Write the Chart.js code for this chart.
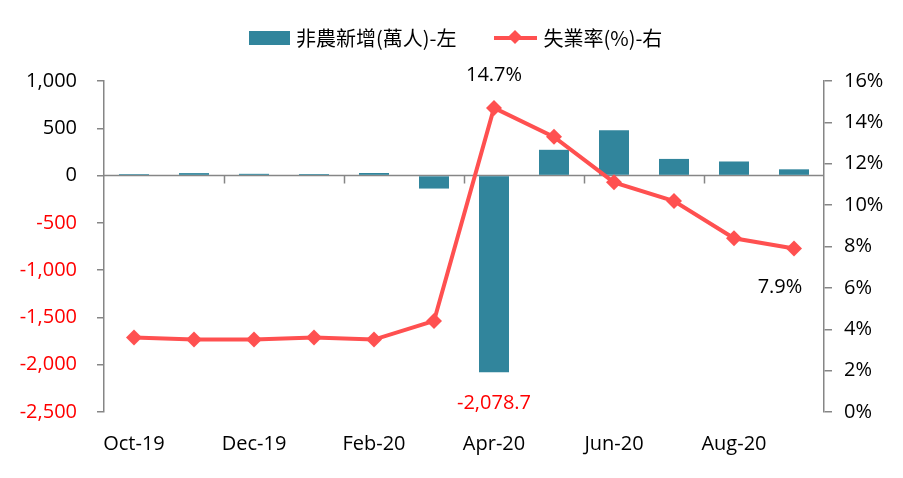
<!DOCTYPE html>
<html>
<head>
<meta charset="utf-8">
<script src="https://cdn.jsdelivr.net/npm/chart.js@4"></script>
<style>
  html, body { margin: 0; padding: 0; background: #fff; }
  #wrap { position: relative; width: 903px; height: 478px; }
  #legend { position: absolute; top: 20px; left: 249px; font-family: "Noto Sans CJK TC", "Open Sans", sans-serif; font-size: 20px; color: #000; white-space: nowrap; }
  #legend span { display: inline-block; vertical-align: middle; }
  .box { width: 41px; height: 14px; background: #31859C; margin-right: 6px; }
  .line { position: relative; width: 43px; height: 4px; background: #FF5050; margin-left: 38px; margin-right: 6px; }
  .line::after { content: ""; position: absolute; left: 16px; top: -4px; width: 10px; height: 10px; background: #FF5050; transform: rotate(45deg); }
</style>
</head>
<body>
<div id="wrap">
  <canvas id="chart" width="903" height="478"></canvas>
  <div id="legend"><span class="box"></span><span>非農新增(萬人)-左</span><span class="line"></span><span>失業率(%)-右</span></div>
</div>
<script>
// 非農新增 vs 失業率
const months = ['Oct-19', 'Nov-19', 'Dec-19', 'Jan-20', 'Feb-20', 'Mar-20', 'Apr-20', 'May-20', 'Jun-20', 'Jul-20', 'Aug-20', 'Sep-20'];
const payrolls = [15.2, 26.1, 18.4, 16.0, 27.3, -137.3, -2078.7, 272.5, 478.1, 176.1, 148.9, 66.1];
const unemployment = [3.6, 3.5, 3.5, 3.6, 3.5, 4.4, 14.7, 13.3, 11.1, 10.2, 8.4, 7.9];
const leftTicks = [-2500, 1000, 500];   // min, max, step
const rightTicks = [0, 16, 2];

const FONT = '"Open Sans", "Noto Sans", sans-serif';
const AXIS = '#868686';

const fmt = v => v.toLocaleString('en-US', { maximumFractionDigits: 1 });

// zero line with category ticks
const zeroLine = {
    id: 'zeroLine',
    beforeDatasetsDraw(chart) {
        const { ctx, chartArea, scales } = chart;
        const y0 = scales.y.getPixelForValue(0);
        const half = (scales.x.getPixelForValue(1) - scales.x.getPixelForValue(0)) / 2;
        ctx.save();
        ctx.strokeStyle = AXIS;
        ctx.lineWidth = 1.5;
        ctx.beginPath();
        ctx.moveTo(chartArea.left, y0);
        ctx.lineTo(chartArea.right, y0);
        for (let i = 2; i < months.length; i += 2) {
            const x = Math.round(scales.x.getPixelForValue(i) - half) + 0.5;
            ctx.moveTo(x, y0);
            ctx.lineTo(x, y0 + 8);
        }
        ctx.stroke();
        ctx.restore();
    }
};

// value labels
const valueLabels = {
    id: 'valueLabels',
    afterDatasetsDraw(chart) {
        const { ctx } = chart;
        const lineMeta = chart.getDatasetMeta(0);
        const barMeta = chart.getDatasetMeta(1);
        ctx.save();
        ctx.font = '20px ' + FONT;
        ctx.textAlign = 'center';
        ctx.textBaseline = 'middle';
        const iMax = unemployment.indexOf(Math.max(...unemployment));
        const iLast = unemployment.length - 1;
        const iMin = payrolls.indexOf(Math.min(...payrolls));
        let p = lineMeta.data[iMax];
        ctx.fillStyle = '#000';
        ctx.fillText(unemployment[iMax] + '%', p.x, p.y - 33);
        p = lineMeta.data[iLast];
        ctx.fillText(unemployment[iLast] + '%', p.x - 14, p.y + 39);
        const b = barMeta.data[iMin];
        ctx.fillStyle = '#FF0000';
        ctx.fillText(fmt(payrolls[iMin]), b.x, b.y + 31);
        ctx.restore();
    }
};

new Chart(document.getElementById('chart'), {
    data: {
        labels: months,
        datasets: [{
            type: 'line',
            label: '失業率(%)-右',
            data: unemployment,
            yAxisID: 'y1',
            borderColor: '#FF5050',
            backgroundColor: '#FF5050',
            borderWidth: 4,
            pointStyle: 'rectRot',
            pointRadius: 8,
            pointBackgroundColor: '#FF5050',
            pointBorderWidth: 0,
            tension: 0,
            order: 1
        }, {
            type: 'bar',
            label: '非農新增(萬人)-左',
            data: payrolls,
            yAxisID: 'y',
            backgroundColor: '#31859C',
            barPercentage: 0.5,
            categoryPercentage: 1,
            order: 2
        }]
    },
    options: {
        responsive: false,
        animation: false,
        layout: { padding: { top: 81, left: 0, right: 0, bottom: 0 } },
        plugins: { legend: { display: false }, tooltip: { enabled: false } },
        scales: {
            x: {
                offset: true,
                grid: { display: false },
                border: { display: false },
                ticks: {
                    autoSkip: false,
                    maxRotation: 0,
                    padding: 12,
                    color: '#000',
                    font: { family: FONT, size: 20 },
                    callback: (v, i) => i % 2 === 0 ? months[i] : ''
                },
                afterFit: s => { s.height = 66; }
            },
            y: {
                position: 'left',
                min: leftTicks[0],
                max: leftTicks[1],
                grid: { drawOnChartArea: false, color: AXIS, tickLength: 7, lineWidth: 1.5 },
                border: { color: AXIS, width: 1.5 },
                ticks: {
                    stepSize: leftTicks[2],
                    padding: 20,
                    font: { family: FONT, size: 20 },
                    color: c => c.tick && c.tick.value < 0 ? '#FF0000' : '#000',
                    callback: v => fmt(v)
                },
                afterFit: s => { s.width = 104; }
            },
            y1: {
                position: 'right',
                min: rightTicks[0],
                max: rightTicks[1],
                grid: { drawOnChartArea: false, color: AXIS, tickLength: 8, lineWidth: 1.5 },
                border: { color: AXIS, width: 1.5 },
                ticks: {
                    stepSize: rightTicks[2],
                    padding: 12,
                    color: '#000',
                    font: { family: FONT, size: 20 },
                    callback: v => v + '%'
                },
                afterFit: s => { s.width = 79; }
            }
        }
    },
    plugins: [zeroLine, valueLabels]
});
</script>
</body>
</html>
